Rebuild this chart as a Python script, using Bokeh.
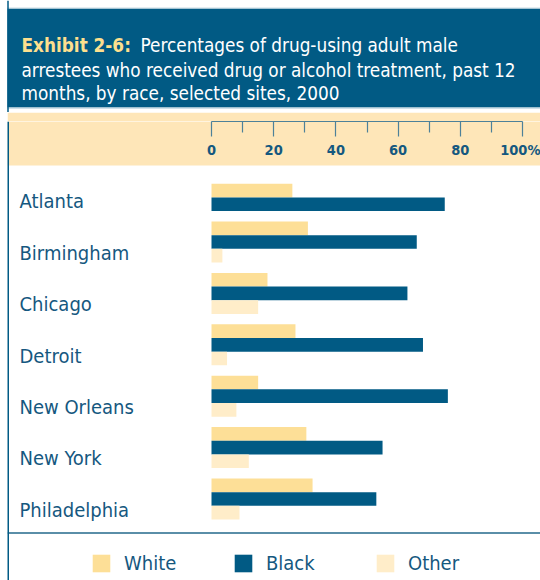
import math
from bokeh.plotting import figure
from bokeh.layouts import column
from bokeh.models import (Range1d, FixedTicker, BoxAnnotation, Span, Legend,
                          LegendItem, ColumnDataSource)
from bokeh.core.properties import value
from bokeh.embed import file_html
from bokeh.resources import INLINE

# ---------------- data ----------------
cities = ["Atlanta", "Birmingham", "Chicago", "Detroit", "New Orleans",
          "New York", "Philadelphia"]
white = [26, 31, 18, 27, 15, 30.5, 32.5]
black = [75, 66, 63, 68, 76, 55, 53]
other = [float("nan"), 3.5, 15, 5, 8, 12, 9]
races = ["White", "Black", "Other"]
tick_values = [0, 20, 40, 60, 80, 100]
tick_labels = ["0", "20", "40", "60", "80", "100%"]
minor_tick_values = [10, 30, 50, 70, 90]
title_bold = "Exhibit 2-6:"
title_lines = ["Percentages of drug-using adult male",
               "arrestees who received drug or alcohol treatment, past 12",
               "months, by race, selected sites, 2000"]

# ---------------- style ----------------
FONT = "DejaVu Sans Condensed"
NAVY = "#015A84"
YEL = "#FDDF97"
PALE = "#FFEDC9"
BAND = "#FEE6B8"
TXT = "#15587F"
AXC = "#4D8199"
colors = [YEL, NAVY, PALE]

W = 540
HH = 112
LM = 7
# ---------------- header figure ----------------
hdr = figure(width=W, height=HH, output_backend="svg", toolbar_location=None,
             x_range=Range1d(0, W), y_range=Range1d(0, HH), min_border=0,
             outline_line_color=None, background_fill_color="white",
             border_fill_color="white")
hdr.axis.visible = False
hdr.grid.visible = False
hdr.add_layout(BoxAnnotation(left=LM, right=W, bottom=HH - 107, top=HH - 8,
                             fill_color=NAVY, fill_alpha=1, line_color=None,
                             level="underlay"))
hdr.add_layout(BoxAnnotation(left=LM, right=W, bottom=HH - 8, top=HH - 7,
                             fill_color="#C9DCE6", fill_alpha=1, line_color=None,
                             level="underlay"))
hdr.add_layout(BoxAnnotation(left=LM, right=W, bottom=HH - 108.2, top=HH - 107,
                             fill_color="#BFD6E2", fill_alpha=1, line_color=None,
                             level="underlay"))
hdr.add_layout(Span(location=LM + 0.5, dimension="height", line_color=NAVY, line_width=1.5))
line_y = [HH - 45, HH - 70, HH - 93]
hdr.text(x=[21], y=[line_y[0]], text=[title_bold], text_color="#FDDF8E",
         text_font=value(FONT), text_font_size="18.8px", text_font_style="bold",
         text_baseline="alphabetic")
hdr.text(x=[140, 21, 21], y=line_y,
         text=title_lines, text_color="white",
         text_font=value(FONT), text_font_size="18.8px", text_baseline="alphabetic")

# ---------------- main figure ----------------
PX = 3.11          # pixels per percent
PITCH = 51.4       # pixels per city group
x0 = -(211 - LM) / PX
x1 = (540 - 211) / PX
y_top = (190.1 - 121) / PITCH
y_bot = -(580 - 190.1) / PITCH
h = 13.67 / PITCH

p = figure(width=W - LM, height=580 - HH, output_backend="svg", toolbar_location=None,
           x_range=Range1d(x0, x1), y_range=Range1d(y_bot, y_top),
           min_border_left=0, min_border_right=0, min_border_bottom=0,
           min_border_top=121 - HH, x_axis_location="above",
           outline_line_color=None, border_fill_color=BAND,
           background_fill_color="white", margin=(0, 0, 0, LM))
p.yaxis.visible = False
p.grid.visible = False

ax = p.xaxis[0]
ax.ticker = FixedTicker(ticks=tick_values, minor_ticks=minor_tick_values)
ax.major_label_overrides = {v: s for v, s in zip(tick_values, tick_labels)}
ax.bounds = (0, 100)
ax.axis_line_color = AXC
ax.axis_line_width = 1.2
ax.major_tick_line_color = AXC
ax.minor_tick_line_color = AXC
ax.major_tick_line_width = 1.2
ax.minor_tick_line_width = 1.2
ax.major_tick_in = 15
ax.major_tick_out = 0
ax.minor_tick_in = 11
ax.minor_tick_out = 0
ax.major_label_standoff = -36
ax.major_label_text_font = FONT
ax.major_label_text_font_size = "14.5px"
ax.major_label_text_font_style = "bold"
ax.major_label_text_color = TXT

# beige band under the axis
p.add_layout(BoxAnnotation(bottom=(190.1 - 165) / PITCH, top=y_top,
                           fill_color=BAND, fill_alpha=1, line_color=None,
                           level="underlay"))
# left border and separator line
p.add_layout(Span(location=x0, dimension="height", line_color=NAVY, line_width=3))
p.add_layout(BoxAnnotation(bottom=-(533.5 - 190.1) / PITCH,
                           top=-(531.5 - 190.1) / PITCH, fill_color="#5A8EA8",
                           fill_alpha=1, line_color=None, level="underlay"))

# bars
series = [white, black, other]
renderers = []
for k, (vals, col) in enumerate(zip(series, colors)):
    ys = []
    for i in range(len(cities)):
        shift = -h if math.isnan(other[i]) else 0.0
        ys.append(-i + (1 - k) * h + shift)
    src = ColumnDataSource(dict(y=ys, right=vals))
    r = p.hbar(y="y", right="right", left=0, height=h, source=src,
               fill_color=col, line_color=None)
    renderers.append(r)

# city labels
p.text(x=[x0] * len(cities), y=[-i - 0.21 for i in range(len(cities))], text=cities,
       x_offset=19 - LM, text_color=TXT, text_font=value(FONT), text_font_size="20px",
       text_baseline="middle")

legend = Legend(items=[LegendItem(label=r_, renderers=[rr]) for r_, rr in zip(races, renderers)],
                orientation="horizontal", location=(90 - LM, 5),
                glyph_width=22, glyph_height=22, label_standoff=12,
                label_width=60, spacing=48, padding=0, margin=0,
                border_line_color=None, background_fill_alpha=0,
                label_text_font=FONT, label_text_font_size="20px",
                label_text_color=TXT)
p.add_layout(legend)

layout = column(hdr, p, spacing=0)
open("out.html", "w").write(file_html(layout, INLINE))
